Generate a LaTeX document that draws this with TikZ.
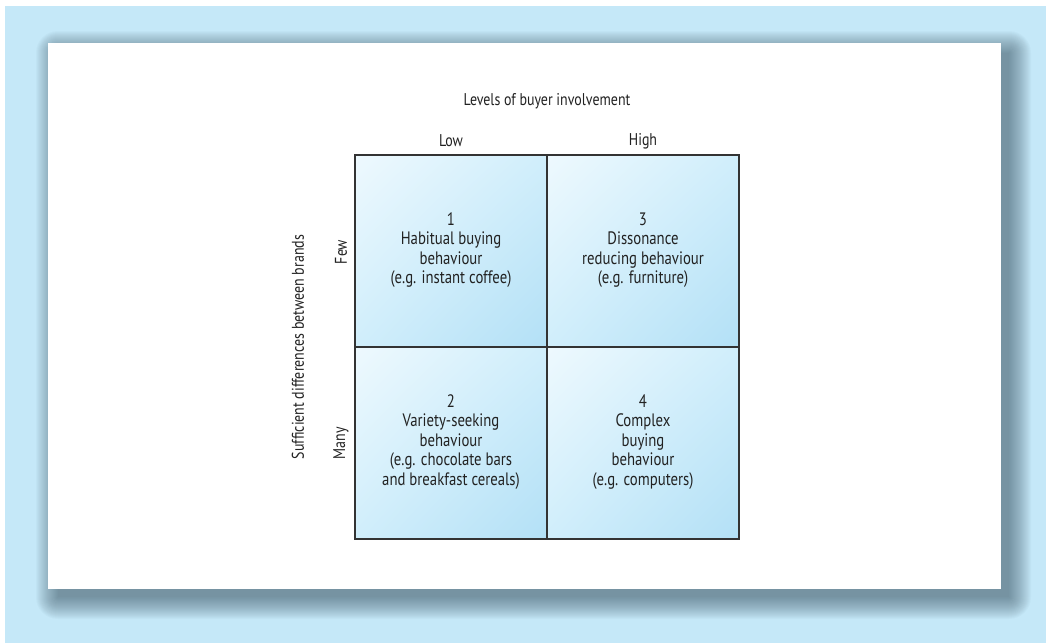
\documentclass[tikz,border=0pt]{standalone}
\usepackage{fontspec}
\setmainfont{PT Sans}[FakeStretch=0.82]
\usetikzlibrary{shadings}
\definecolor{bgblue}{HTML}{C5E8F8}
\definecolor{shadowcol}{RGB}{60,85,100}
\definecolor{celllight}{HTML}{EEF9FE}
\definecolor{celldark}{HTML}{B3E0F6}
\definecolor{cellmid}{HTML}{D0EEFB}
\definecolor{txt}{HTML}{222222}
\tikzset{
  celltext/.style={align=center, text=txt, font=\fontsize{18}{19.5}\selectfont, inner sep=0pt},
  axislabel/.style={text=txt, font=\fontsize{17}{18}\selectfont, inner sep=0pt},
  gridline/.style={draw=black!80, line width=1.3pt},
}
\begin{document}
\begin{tikzpicture}[x=1pt,y=-1pt]
\useasboundingbox (0,0) rectangle (1046,643);
\fill[white] (0,0) rectangle (1046,643);
\fill[bgblue] (5,6) rectangle (1046,643);
% soft shadow
\foreach \e in {0,1,...,22}{
  \fill[shadowcol, fill opacity=0.03, rounded corners=\e pt]
    ({58-\e},{53-\e}) rectangle ({1009+\e},{597+\e});
}
% panel
\fill[white] (48,43) rectangle (1001,589);
% cells
\foreach \cx/\cy in {355/155, 547/155, 355/347, 547/347}{
  \shade[upper left=celllight, lower right=celldark, upper right=cellmid, lower left=cellmid]
    (\cx,\cy) rectangle ({\cx+192},{\cy+192});
}
\coordinate (tl) at (355,155);
\coordinate (br) at (739,539);
\draw[gridline] (tl) rectangle (br);
\draw[gridline] (547,155) -- (547,539);
\draw[gridline] (355,347) -- (739,347);
% labels
\node[axislabel] (title) at (547,101) {Levels of buyer involvement};
\node[axislabel] (low) at (451,141) {Low};
\node[axislabel] (high) at (643,141) {High};
\node[axislabel, rotate=90] (few) at (341,252) {Few};
\node[axislabel, rotate=90] (many) at (341,443) {Many};
\node[axislabel, rotate=90] (suff) at (298,347) {Sufficient differences between brands};
% cell texts
\node[celltext] (c1) at (451,250) {1\\Habitual buying\\behaviour\\(e.g. instant coffee)};
\node[celltext] (c3) at (643,250) {3\\Dissonance\\reducing behaviour\\(e.g. furniture)};
\node[celltext] (c2) at (451,442) {2\\Variety-seeking\\behaviour\\(e.g. chocolate bars\\and breakfast cereals)};
\node[celltext] (c4) at (643,442) {4\\Complex\\buying\\behaviour\\(e.g. computers)};
\end{tikzpicture}
\end{document}
